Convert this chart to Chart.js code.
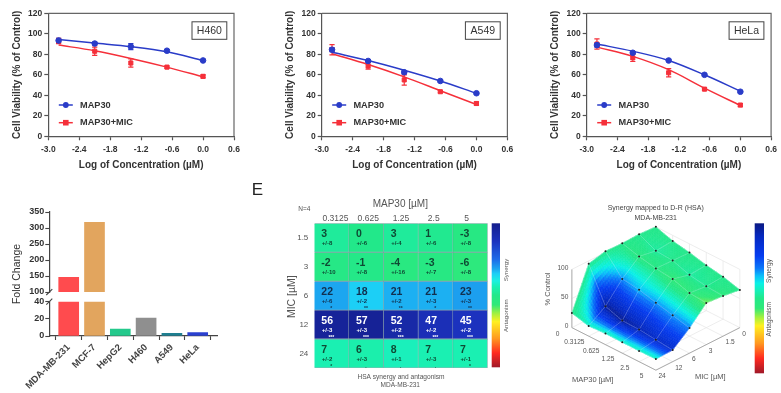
<!DOCTYPE html>
<html>
<head>
<meta charset="utf-8">
<script src="https://cdn.jsdelivr.net/npm/chart.js@4/dist/chart.umd.min.js"></script>
<style>
    html, body { margin: 0; padding: 0; background: #fff; width: 781px; height: 393px; overflow: hidden; }
    canvas { position: absolute; filter: blur(0.6px); }
</style>
</head>
<body>
<script>
const FONT = '"Liberation Sans", Arial, sans-serif';
const BLUE = '#2a3cc8';
const RED = '#f5303a';

// dose response panels
const concLog = [-2.8, -2.1, -1.4, -0.7, 0];

const h460Map30 = [93.5, 90.5, 87.5, 83.5, 74];
const h460Map30Err = [2, 1.5, 3, 1, 1];
const h460Map30Fit = [94.5, 91, 87.5, 82.5, 74];
const h460Mic = [93, 83, 71.5, 67.5, 58.5];
const h460MicErr = [2.5, 4, 4, 1, 1.5];
const h460MicFit = [89, 83.5, 76, 67.5, 58];

const a549Map30 = [84.5, 73.5, 62.5, 54, 42];
const a549Map30Err = [2, 1, 1.5, 1, 1];
const a549Map30Fit = [82, 74, 64.5, 54, 42];
const a549Mic = [84.5, 68.5, 55, 43.5, 32];
const a549MicErr = [5, 3, 5, 1, 1.5];
const a549MicFit = [80.5, 70, 58, 44.5, 31];

const helaMap30 = [89, 81.5, 74, 60, 43.5];
const helaMap30Err = [2, 1, 1, 1, 1];
const helaMap30Fit = [90, 83, 74, 60, 44];
const helaMic = [90, 76.5, 62, 46, 30.5];
const helaMicErr = [5, 3.5, 4, 1, 1.5];
const helaMicFit = [87, 78, 65, 47, 30];

// fold change bars
const foldCells = ['MDA-MB-231', 'MCF-7', 'HepG2', 'H460', 'A549', 'HeLa'];
const foldValues = [146, 318, 8, 21, 3, 4];
const foldColors = ['#ff4b4e', '#e2a55e', '#24c98c', '#8f8f8f', '#1f7f90', '#2a40d0'];

// synergy matrix
const map30Doses = ['0.3125', '0.625', '1.25', '2.5', '5'];
const micDoses = ['1.5', '3', '6', '12', '24'];
const synergy = [
    [3, 0, 3, 1, -3],
    [-2, -1, -4, -3, -6],
    [22, 18, 21, 21, 23],
    [56, 57, 52, 47, 45],
    [7, 6, 8, 7, 7]
];
const synergyErr = [
    [8, 6, 4, 6, 8],
    [10, 8, 16, 7, 8],
    [6, 2, 2, 3, 3],
    [3, 3, 2, 2, 2],
    [2, 3, 1, 3, 1]
];
const synergyStars = [
    ['', '', '', '', ''],
    ['', '', '', '', ''],
    ['*', '**', '**', '*', '**'],
    ['***', '***', '***', '***', '***'],
    ['*', '.', '.', '.', '*']
];

// % control surface, rows MIC 0..24, columns MAP30 0..5
const surfaceMap30 = ['0', '0.3125', '0.625', '1.25', '2.5', '5'];
const surfaceMic = ['0', '1.5', '3', '6', '12', '24'];
const surfaceControl = [
    [100, 90.4, 85, 78, 72.8, 64.7],
    [102, 88, 86, 76, 71, 69],
    [101, 93, 87, 83.5, 74, 71.5],
    [102, 69, 65, 57.5, 50.4, 43],
    [95, 36.7, 26.7, 26, 23, 20],
    [25, 17.4, 19, 18.6, 18.5, 19]
];

// synergy -> colour
const warmStops = [
    [-60, 160, 24, 40], [-48, 255, 42, 32], [-36, 255, 152, 32], [-22, 255, 240, 32],
    [-15, 160, 240, 64], [-8, 48, 233, 120], [0, 34, 232, 138]
];
const cellStops = warmStops.concat([
    [7, 26, 240, 178], [12, 28, 240, 224], [18, 28, 207, 246], [22, 28, 166, 240],
    [30, 30, 106, 232], [45, 28, 50, 190], [60, 20, 30, 140]
]);
const surfaceStops = warmStops.concat([
    [7, 20, 240, 190], [12, 10, 240, 230], [18, 10, 190, 250], [24, 10, 120, 250],
    [34, 5, 60, 240], [50, 5, 40, 190], [60, 10, 25, 130]
]);

function cmap(stops, v) {
    for (let k = 1; k < stops.length; k++) {
        const a = stops[k - 1], b = stops[k];
        if (v <= b[0]) {
            const t = Math.max(0, (v - a[0]) / (b[0] - a[0]));
            return `rgb(${a[1] + (b[1] - a[1]) * t},${a[2] + (b[2] - a[2]) * t},${a[3] + (b[3] - a[3]) * t})`;
        }
    }
    const last = stops[stops.length - 1];
    return `rgb(${last[1]},${last[2]},${last[3]})`;
}

function addCanvas(left, top, w, h) {
    const c = document.createElement('canvas');
    c.width = w;
    c.height = h;
    c.style.left = left + 'px';
    c.style.top = top + 'px';
    document.body.appendChild(c);
    return c;
}

function text(ctx, str, x, y, font, color, align, rotate) {
    ctx.save();
    ctx.translate(x, y);
    if (rotate) ctx.rotate(rotate);
    ctx.font = font;
    ctx.fillStyle = color;
    ctx.textAlign = align || 'center';
    ctx.textBaseline = 'middle';
    ctx.fillText(str, 0, 0);
    ctx.restore();
}

function colorbar(ctx, stops, x, y, w, h) {
    const g = ctx.createLinearGradient(0, y, 0, y + h);
    stops.forEach(s => g.addColorStop((60 - s[0]) / 120, `rgb(${s[1]},${s[2]},${s[3]})`));
    ctx.fillStyle = g;
    ctx.fillRect(x, y, w, h);
}

// error bars, frame, legend and cell line box
const doseDecor = {
    id: 'doseDecor',
    beforeDatasetsDraw(chart) {
        const { ctx, chartArea: a, scales } = chart;
        ctx.save();
        ctx.strokeStyle = '#666';
        ctx.lineWidth = 1.2;
        ctx.beginPath();
        ctx.moveTo(a.left, a.top);
        ctx.lineTo(a.right, a.top);
        ctx.lineTo(a.right, a.bottom);
        ctx.stroke();
        chart.data.datasets.forEach(ds => {
            if (!ds.errors) return;
            ctx.strokeStyle = ds.borderColor;
            ctx.lineWidth = 1.2;
            ds.errors.forEach((e, k) => {
                const x = scales.x.getPixelForValue(ds.data[k].x);
                const y0 = scales.y.getPixelForValue(ds.data[k].y - e);
                const y1 = scales.y.getPixelForValue(ds.data[k].y + e);
                ctx.beginPath();
                ctx.moveTo(x, y0);
                ctx.lineTo(x, y1);
                ctx.moveTo(x - 2.6, y0);
                ctx.lineTo(x + 2.6, y0);
                ctx.moveTo(x - 2.6, y1);
                ctx.lineTo(x + 2.6, y1);
                ctx.stroke();
            });
        });
        ctx.restore();
    },
    afterDraw(chart, args, opts) {
        const { ctx, chartArea: a } = chart;
        ctx.save();
        // legend
        [['MAP30', BLUE, 'circle', 105], ['MAP30+MIC', RED, 'rect', 122.7]].forEach(([name, col, shape, y]) => {
            ctx.strokeStyle = col;
            ctx.fillStyle = col;
            ctx.lineWidth = 1.5;
            ctx.beginPath();
            ctx.moveTo(a.left + 10.5, y);
            ctx.lineTo(a.left + 24.5, y);
            ctx.stroke();
            if (shape === 'circle') {
                ctx.beginPath();
                ctx.arc(a.left + 17.5, y, 2.9, 0, Math.PI * 2);
                ctx.fill();
            } else {
                ctx.fillRect(a.left + 14.7, y - 2.8, 5.6, 5.6);
            }
            text(ctx, name, a.left + 31.7, y, `bold 9.2px ${FONT}`, '#333', 'left');
        });
        // cell line box
        ctx.strokeStyle = '#444';
        ctx.lineWidth = 1;
        ctx.strokeRect(a.right - 42, 21.8, 34.8, 17.5);
        text(ctx, opts.cell, a.right - 24.6, 30.8, `10.5px ${FONT}`, '#333');
        ctx.restore();
    }
};

function doseChart(left, plotLeft, cell, map30, map30Err, map30Fit, mic, micErr, micFit) {
    const toPts = arr => arr.map((v, k) => ({ x: concLog[k], y: v }));
    const W = 260, H = 180;
    new Chart(addCanvas(left, 0, W, H), {
        type: 'scatter',
        data: {
            datasets: [
                { data: toPts(map30), errors: map30Err, borderColor: BLUE, backgroundColor: BLUE, pointStyle: 'circle', pointRadius: 2.8 },
                { data: toPts(map30Fit), showLine: true, borderColor: BLUE, borderWidth: 1.5, pointRadius: 0, cubicInterpolationMode: 'monotone' },
                { data: toPts(mic), errors: micErr, borderColor: RED, backgroundColor: RED, pointStyle: 'rect', pointRadius: 2.9 },
                { data: toPts(micFit), showLine: true, borderColor: RED, borderWidth: 1.5, pointRadius: 0, cubicInterpolationMode: 'monotone' }
            ]
        },
        options: {
            responsive: false,
            animation: false,
            devicePixelRatio: 1,
            layout: { padding: { top: 13.3, right: W - plotLeft - 185.7 } },
            plugins: { legend: { display: false }, tooltip: { enabled: false }, doseDecor: { cell } },
            scales: {
                x: {
                    type: 'linear', min: -3, max: 0.6,
                    afterBuildTicks: axis => { axis.ticks = [-3, -2.4, -1.8, -1.2, -0.6, 0, 0.6].map(value => ({ value })); },
                    afterFit: s => { s.height = 43.7; },
                    grid: { drawOnChartArea: false, tickLength: 4, tickColor: '#555', tickWidth: 1.2 },
                    border: { color: '#555', width: 1.2 },
                    ticks: { font: { family: FONT, size: 8.5, weight: 'bold' }, color: '#333', padding: 4, maxRotation: 0, callback: v => v.toFixed(1) },
                    title: { display: true, text: 'Log of Concentration (µM)', font: { family: FONT, size: 10, weight: 'bold' }, color: '#333', padding: { bottom: 9 } }
                },
                y: {
                    min: 0, max: 120,
                    afterFit: s => { s.width = plotLeft; },
                    grid: { drawOnChartArea: false, tickLength: 4, tickColor: '#555', tickWidth: 1.2 },
                    border: { color: '#555', width: 1.2 },
                    ticks: { stepSize: 20, font: { family: FONT, size: 8.5, weight: 'bold' }, color: '#333', padding: 2 },
                    title: { display: true, text: 'Cell Viability (% of Control)', font: { family: FONT, size: 10, weight: 'bold' }, color: '#333', padding: { top: 11 + plotLeft - 48.3 } }
                }
            }
        },
        plugins: [doseDecor]
    });
}

doseChart(0, 48.3, 'H460', h460Map30, h460Map30Err, h460Map30Fit, h460Mic, h460MicErr, h460MicFit);
doseChart(260, 61.7, 'A549', a549Map30, a549Map30Err, a549Map30Fit, a549Mic, a549MicErr, a549MicFit);
doseChart(521, 65.7, 'HeLa', helaMap30, helaMap30Err, helaMap30Fit, helaMic, helaMicErr, helaMicFit);

// fold change: same bars on two stacked axes, clipped by each chart area
function foldChart(top, bottom, min, max, ticks, showX, decor) {
    return new Chart(addCanvas(0, 195, 240, 198), {
        type: 'bar',
        data: {
            datasets: [{
                data: foldValues.map((v, k) => ({ x: k, y: v })),
                backgroundColor: foldColors,
                barThickness: 20
            }]
        },
        options: {
            responsive: false,
            animation: false,
            devicePixelRatio: 1,
            layout: { padding: { top, right: 22.3, bottom: showX ? 0 : bottom } },
            plugins: { legend: { display: false }, tooltip: { enabled: false } },
            scales: {
                x: {
                    type: 'linear', display: showX, offset: false,
                    min: -0.752, max: 5.775,
                    afterBuildTicks: axis => { axis.ticks = foldCells.map((_, value) => ({ value })); },
                    afterFit: s => { s.height = showX ? bottom : 0; },
                    grid: { drawOnChartArea: false, tickLength: 4, tickColor: '#444', tickWidth: 1.1 },
                    border: { color: '#444', width: 1.2 },
                    ticks: { font: { family: FONT, size: 9.5, weight: 'bold' }, color: '#444', minRotation: 45, maxRotation: 45, autoSkip: false, padding: 2, callback: v => foldCells[v] }
                },
                y: {
                    min, max,
                    afterBuildTicks: axis => { axis.ticks = ticks.map(value => ({ value })); },
                    afterFit: s => { s.width = 49.3; },
                    grid: { drawOnChartArea: false, tickLength: 4, tickColor: '#444', tickWidth: 1.1 },
                    border: { color: '#444', width: 1.2 },
                    ticks: { font: { family: FONT, size: 9, weight: 'bold' }, color: '#333', padding: 1 }
                }
            }
        },
        plugins: decor ? [decor] : []
    });
}

foldChart(17, 101, 100, 350, [100, 150, 200, 250, 300, 350], false, {
    id: 'foldTitle',
    afterDraw(chart) {
        text(chart.ctx, 'Fold Change', 17, 79, `10.5px ${FONT}`, '#333', 'center', -Math.PI / 2);
    }
});
foldChart(106.7, 57, 0, 40, [0, 20, 40], true, {
    id: 'axisBreak',
    afterDraw(chart) {
        const { ctx, chartArea: a } = chart;
        ctx.save();
        ctx.strokeStyle = '#444';
        ctx.lineWidth = 1.1;
        ctx.beginPath();
        ctx.moveTo(a.left - 3, a.top - 6.7);
        ctx.lineTo(a.left + 3, a.top - 12.5);
        ctx.moveTo(a.left - 3, a.top + 3);
        ctx.lineTo(a.left + 3, a.top - 3);
        ctx.stroke();
        ctx.restore();
    }
});

// E: synergy heat map, stacked bars of unit width
const heatDecor = {
    id: 'heatDecor',
    afterDraw(chart) {
        const { ctx, scales } = chart;
        const GRAY = '#555';
        text(ctx, 'E', 12.3, 10.5, `17px ${FONT}`, '#222');
        text(ctx, 'MAP30 [µM]', 155.3, 24.3, `10px ${FONT}`, GRAY);
        text(ctx, 'N=4', 59.3, 29, `6.5px ${FONT}`, GRAY);
        text(ctx, 'MIC [µM]', 46.7, 116.7, `10.5px ${FONT}`, GRAY, 'center', -Math.PI / 2);
        map30Doses.forEach((d, c) => {
            text(ctx, d, scales.x.getPixelForValue(c + 0.5) + (2 - c) * 1.9, 38.7, `8.5px ${FONT}`, GRAY);
        });
        // cell labels
        chart.data.datasets.forEach((ds, c) => {
            chart.getDatasetMeta(c).data.forEach((bar, r) => {
                const left = bar.base !== undefined ? Math.min(bar.x, bar.base) : bar.x;
                const top = bar.y - bar.height / 2;
                const col = r === 3 ? '#fff' : r === 2 ? '#12304f' : '#0f4a34';
                text(ctx, String(synergy[r][c]), left + 7, top + 11, `bold 10.5px ${FONT}`, col, 'left');
                text(ctx, '+/-' + synergyErr[r][c], left + 7.5, top + 20, `bold 6px ${FONT}`, col, 'left');
                if (synergyStars[r][c]) text(ctx, synergyStars[r][c], left + 17, top + 27.5, `bold 5px ${FONT}`, col);
            });
        });
        colorbar(ctx, cellStops, 246.7, 43.3, 8.3, 144);
        text(ctx, 'Synergy', 261.7, 90, `6.2px ${FONT}`, GRAY, 'center', -Math.PI / 2);
        text(ctx, 'Antagonism', 261.7, 135.7, `6.2px ${FONT}`, GRAY, 'center', -Math.PI / 2);
        text(ctx, 'HSA synergy and antagonism', 156, 196.7, `6.6px ${FONT}`, GRAY);
        text(ctx, 'MDA-MB-231', 155.3, 205.7, `6.5px ${FONT}`, GRAY);
    }
};

new Chart(addCanvas(245, 180, 275, 213), {
    type: 'bar',
    data: {
        labels: micDoses,
        datasets: map30Doses.map((d, c) => ({
            label: d,
            data: micDoses.map(() => 1),
            backgroundColor: ctx => cmap(cellStops, synergy[ctx.dataIndex][c]),
            borderColor: 'rgba(0,60,70,0.4)',
            borderWidth: 0.8,
            barPercentage: 1,
            categoryPercentage: 1
        }))
    },
    options: {
        indexAxis: 'y',
        responsive: false,
        animation: false,
        devicePixelRatio: 1,
        layout: { padding: { top: 43.3, right: 32.3, bottom: 25 } },
        plugins: { legend: { display: false }, tooltip: { enabled: false } },
        scales: {
            x: { stacked: true, min: 0, max: 5, display: false },
            y: {
                stacked: true,
                afterFit: s => { s.width = 69.3; },
                grid: { display: false, drawTicks: false },
                border: { display: false },
                ticks: { font: { family: FONT, size: 8 }, color: '#555', padding: 6 }
            }
        }
    },
    plugins: [heatDecor]
});

// surface: oblique projection, x = i - j and y = z - (i + j) * depth
const depth = 14.61;
const surfacePts = [];
surfaceControl.forEach((row, j) => row.forEach((z, i) => surfacePts.push({ x: i - j, y: z - (i + j) * depth })));

// the small negative cells read as yellow-green on the surface
function surfaceSynergy(j, i) {
    const v = (i === 0 || j === 0) ? 0 : synergy[j - 1][i - 1];
    return v < 0 ? v * 2 : v;
}

function bilerp(f, j, i, v, u) {
    return (f(j, i) * (1 - u) + f(j, i + 1) * u) * (1 - v) + (f(j + 1, i) * (1 - u) + f(j + 1, i + 1) * u) * v;
}

const surfaceDecor = {
    id: 'surfaceDecor',
    beforeDatasetsDraw(chart) {
        const { ctx, scales } = chart;
        const P = (i, j, z) => [scales.x.getPixelForValue(i - j), scales.y.getPixelForValue(z - (i + j) * depth)];
        const seg = (a, b) => { ctx.moveTo(a[0], a[1]); ctx.lineTo(b[0], b[1]); };
        const GRAY = '#555';
        ctx.save();
        // back walls and floor
        ctx.strokeStyle = '#e8e8e8';
        ctx.lineWidth = 0.8;
        ctx.beginPath();
        for (let k = 0; k <= 5; k++) {
            seg(P(0, k, 0), P(0, k, 100));
            seg(P(k, 0, 0), P(k, 0, 100));
            seg(P(k, 0, 0), P(k, 5, 0));
            seg(P(0, k, 0), P(5, k, 0));
        }
        [50, 100].forEach(z => { seg(P(0, 0, z), P(0, 5, z)); seg(P(0, 0, z), P(5, 0, z)); });
        ctx.stroke();
        // box edges
        ctx.strokeStyle = '#999';
        ctx.beginPath();
        seg(P(0, 5, 0), P(5, 5, 0));
        seg(P(5, 5, 0), P(5, 0, 0));
        seg(P(0, 5, 0), P(0, 5, 100));
        ctx.stroke();
        // surface patches, back to front
        const control = (j, i) => surfaceControl[j][i];
        const n = 10;
        const cells = [];
        for (let j = 0; j < 5; j++) for (let i = 0; i < 5; i++) cells.push([j, i]);
        cells.sort((a, b) => (a[0] + a[1]) - (b[0] + b[1]));
        cells.forEach(([j, i]) => {
            for (let v = 0; v < n; v++) for (let u = 0; u < n; u++) {
                const corner = (uu, vv) => P(i + uu / n, j + vv / n, bilerp(control, j, i, vv / n, uu / n));
                const fill = cmap(surfaceStops, bilerp(surfaceSynergy, j, i, (v + 0.5) / n, (u + 0.5) / n));
                const q = [corner(u, v), corner(u + 1, v), corner(u + 1, v + 1), corner(u, v + 1)];
                ctx.fillStyle = fill;
                ctx.strokeStyle = fill;
                ctx.lineWidth = 0.6;
                ctx.beginPath();
                ctx.moveTo(q[0][0], q[0][1]);
                q.slice(1).forEach(p => ctx.lineTo(p[0], p[1]));
                ctx.closePath();
                ctx.fill();
                ctx.stroke();
            }
        });
        // wire grid
        ctx.strokeStyle = 'rgba(235,240,255,0.35)';
        ctx.lineWidth = 0.7;
        ctx.beginPath();
        surfaceControl.forEach((row, j) => row.forEach((z, i) => {
            if (i < 5) seg(P(i, j, z), P(i + 1, j, surfaceControl[j][i + 1]));
            if (j < 5) seg(P(i, j, z), P(i, j + 1, surfaceControl[j + 1][i]));
        }));
        ctx.stroke();
        // labels
        const small = `6.6px ${FONT}`;
        surfaceMap30.forEach((d, i) => {
            const p = P(i, 5, 0);
            text(ctx, d, p[0] - 14.3, p[1] + 6.3, small, GRAY);
        });
        surfaceMic.forEach((d, j) => {
            const p = P(5, j, 0);
            text(ctx, d, p[0] + 2.5, p[1] + 6.3, small, GRAY, 'left');
        });
        [0, 50, 100].forEach(z => {
            const p = P(0, 5, z);
            text(ctx, String(z), p[0] - 3.5, p[1] - 1.5, small, GRAY, 'right');
        });
        text(ctx, '% Control', 28, 94, `7.5px ${FONT}`, GRAY, 'center', -Math.PI / 2);
        text(ctx, 'MAP30 [µM]', 72.7, 185.3, `7.5px ${FONT}`, GRAY);
        text(ctx, 'MIC [µM]', 190.3, 181.7, `7.5px ${FONT}`, GRAY);
        text(ctx, 'Synergy mapped to D-R (HSA)', 135.7, 13.3, `7px ${FONT}`, '#444');
        text(ctx, 'MDA-MB-231', 135.7, 22.7, `7px ${FONT}`, '#444');
        colorbar(ctx, surfaceStops, 234.7, 28.3, 9.3, 150);
        text(ctx, 'Synergy', 249.3, 76, `6.5px ${FONT}`, GRAY, 'center', -Math.PI / 2);
        text(ctx, 'Antagonism', 249.3, 124.3, `6.5px ${FONT}`, GRAY, 'center', -Math.PI / 2);
        ctx.restore();
    }
};

new Chart(addCanvas(520, 195, 261, 198), {
    type: 'scatter',
    data: { datasets: [{ data: surfacePts, backgroundColor: '#222', pointRadius: 1, borderWidth: 0 }] },
    options: {
        responsive: false,
        animation: false,
        devicePixelRatio: 1,
        clip: false,
        plugins: { legend: { display: false }, tooltip: { enabled: false } },
        scales: {
            x: { min: -7.85, max: 7.21, display: false },
            y: { min: -178.4, max: 147.8, display: false }
        }
    },
    plugins: [surfaceDecor]
});
</script>
</body>
</html>
